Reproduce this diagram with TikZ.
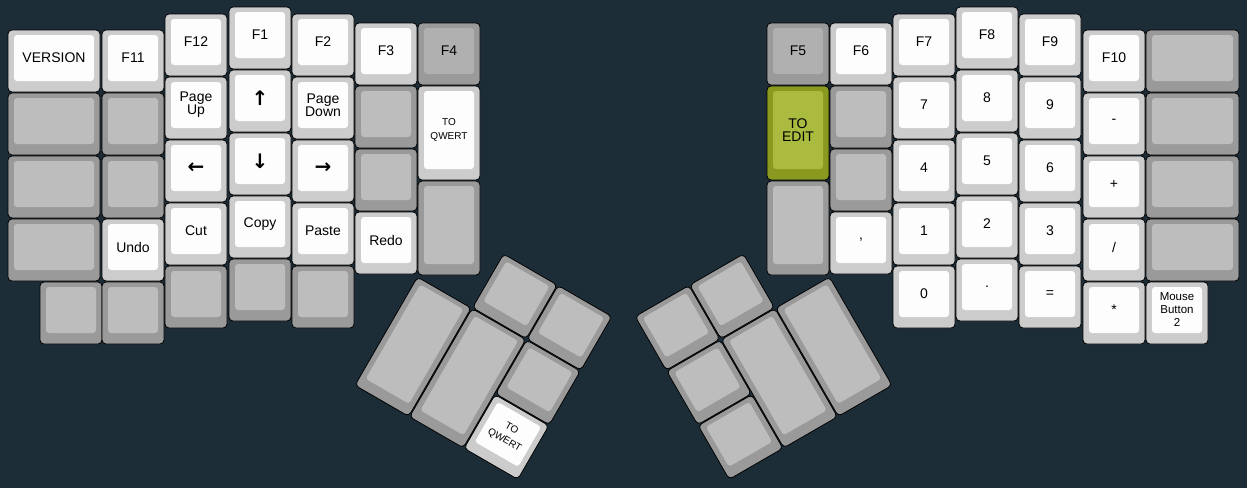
\documentclass[tikz,border=0pt]{standalone}
\usepackage{fontspec}
\setmainfont{Liberation Sans}
\newfontfamily\symfont{DejaVu Sans}
\definecolor{board}{HTML}{1D2D38}
\definecolor{lblout}{HTML}{CCCCCC}
\definecolor{lblin}{HTML}{FDFDFD}
\definecolor{blankout}{HTML}{9A9A9A}
\definecolor{blankin}{HTML}{BDBDBD}
\definecolor{darkin}{HTML}{B0B0B0}
\definecolor{greenout}{HTML}{8A9A20}
\definecolor{greenin}{HTML}{AABB40}
\tikzset{
  key out/.style={draw=black, line width=0.8pt, rounded corners=4pt, inner sep=0pt},
  key cap/.style={rounded corners=3pt, inner sep=0pt, align=center,
    font=\fontsize{14}{15}\selectfont},
  lbl out/.style={fill=lblout}, lbl cap/.style={fill=lblin},
  blank out/.style={fill=blankout}, blank cap/.style={fill=blankin},
  dark out/.style={fill=blankout}, dark cap/.style={fill=darkin},
  green out/.style={fill=greenout}, green cap/.style={fill=greenin}
}
% name, left, top, width, height, tone, label
\newcommand{\kbkey}[7]{%
  \node[key out, #6 out, minimum width=#4pt, minimum height=#5pt] (#1) at ({#2+#4/2},{#3+#5/2}) {};
  \node[key cap, #6 cap, minimum width=#4pt-12pt, minimum height=#5pt-16pt] (#1-cap) at ({#2+#4/2},{#3+#5/2-3}) {#7};}
\newcommand{\arr}[1]{{\symfont\bfseries\fontsize{20}{20}\selectfont #1}}
\newcommand{\sm}{\fontsize{10}{11}\selectfont}
\newcommand{\mb}{\fontsize{11.5}{12}\selectfont}
\begin{document}
\begin{tikzpicture}[x=1pt,y=-1pt]
\fill[board] (0,0) rectangle (1247,488);
\useasboundingbox (0,0) rectangle (1247,488);
% left hand
\kbkey{l00}{8}{30}{92}{62}{lbl}{VERSION}
\kbkey{l01}{8}{93}{92}{62}{blank}{}
\kbkey{l02}{8}{156}{92}{62}{blank}{}
\kbkey{l03}{8}{219}{92}{62}{blank}{}
\kbkey{l04}{40}{282}{62}{62}{blank}{}
\kbkey{l10}{102}{30}{62}{62}{lbl}{F11}
\kbkey{l11}{102}{93}{62}{62}{blank}{}
\kbkey{l12}{102}{156}{62}{62}{blank}{}
\kbkey{l13}{102}{219}{62}{62}{lbl}{Undo}
\kbkey{l14}{102}{282}{62}{62}{blank}{}
\kbkey{l20}{165}{14}{62}{62}{lbl}{F12}
\kbkey{l21}{165}{77}{62}{62}{lbl}{Page\\[-2pt]Up}
\kbkey{l22}{165}{140}{62}{62}{lbl}{\arr{←}}
\kbkey{l23}{165}{203}{62}{62}{lbl}{Cut}
\kbkey{l24}{165}{266}{62}{62}{blank}{}
\kbkey{l30}{229}{7}{62}{62}{lbl}{F1}
\kbkey{l31}{229}{70}{62}{62}{lbl}{\arr{↑}}
\kbkey{l32}{229}{133}{62}{62}{lbl}{\arr{↓}}
\kbkey{l33}{229}{196}{62}{62}{lbl}{Copy}
\kbkey{l34}{229}{259}{62}{62}{blank}{}
\kbkey{l40}{292}{14}{62}{62}{lbl}{F2}
\kbkey{l41}{292}{77}{62}{62}{lbl}{Page\\[-2pt]Down}
\kbkey{l42}{292}{140}{62}{62}{lbl}{\arr{→}}
\kbkey{l43}{292}{203}{62}{62}{lbl}{Paste}
\kbkey{l44}{292}{266}{62}{62}{blank}{}
\kbkey{l50}{355}{23}{62}{62}{lbl}{F3}
\kbkey{l51}{355}{86}{62}{62}{blank}{}
\kbkey{l52}{355}{149}{62}{62}{blank}{}
\kbkey{l53}{355}{212}{62}{62}{lbl}{Redo}
\kbkey{l60}{418}{23}{62}{62}{dark}{F4}
\kbkey{l61}{418}{86}{62}{94}{lbl}{\sm TO\\[-1pt]\sm QWERT}
\kbkey{l62}{418}{181}{62}{94}{blank}{}
% left thumb
\begin{scope}[shift={(449,222.5)}, rotate=-30, transform shape]
  \kbkey{lt0}{63}{0}{62}{62}{blank}{}
  \kbkey{lt1}{126}{0}{62}{62}{blank}{}
  \kbkey{lt2}{126}{63}{62}{62}{blank}{}
  \kbkey{lt3}{126}{126}{62}{62}{lbl}{\sm TO\\[-1pt]\sm QWERT}
  \kbkey{lt4}{0}{63}{62}{125}{blank}{}
  \kbkey{lt5}{63}{63}{62}{125}{blank}{}
\end{scope}
% right hand
\kbkey{r60}{767}{23}{62}{62}{dark}{F5}
\kbkey{r61}{767}{86}{62}{94}{green}{TO\\[-2pt]EDIT}
\kbkey{r62}{767}{181}{62}{94}{blank}{}
\kbkey{r50}{830}{23}{62}{62}{lbl}{F6}
\kbkey{r51}{830}{86}{62}{62}{blank}{}
\kbkey{r52}{830}{149}{62}{62}{blank}{}
\kbkey{r53}{830}{212}{62}{62}{lbl}{,}
\kbkey{r40}{893}{14}{62}{62}{lbl}{F7}
\kbkey{r41}{893}{77}{62}{62}{lbl}{7}
\kbkey{r42}{893}{140}{62}{62}{lbl}{4}
\kbkey{r43}{893}{203}{62}{62}{lbl}{1}
\kbkey{r44}{893}{266}{62}{62}{lbl}{0}
\kbkey{r30}{956}{7}{62}{62}{lbl}{F8}
\kbkey{r31}{956}{70}{62}{62}{lbl}{8}
\kbkey{r32}{956}{133}{62}{62}{lbl}{5}
\kbkey{r33}{956}{196}{62}{62}{lbl}{2}
\kbkey{r34}{956}{259}{62}{62}{lbl}{.}
\kbkey{r20}{1019}{14}{62}{62}{lbl}{F9}
\kbkey{r21}{1019}{77}{62}{62}{lbl}{9}
\kbkey{r22}{1019}{140}{62}{62}{lbl}{6}
\kbkey{r23}{1019}{203}{62}{62}{lbl}{3}
\kbkey{r24}{1019}{266}{62}{62}{lbl}{=}
\kbkey{r10}{1083}{30}{62}{62}{lbl}{F10}
\kbkey{r11}{1083}{93}{62}{62}{lbl}{-}
\kbkey{r12}{1083}{156}{62}{62}{lbl}{+}
\kbkey{r13}{1083}{219}{62}{62}{lbl}{/}
\kbkey{r14}{1083}{282}{62}{62}{lbl}{*}
\kbkey{r00}{1146}{30}{93}{62}{blank}{}
\kbkey{r01}{1146}{93}{93}{62}{blank}{}
\kbkey{r02}{1146}{156}{93}{62}{blank}{}
\kbkey{r03}{1146}{219}{93}{62}{blank}{}
\kbkey{r04}{1146}{282}{62}{62}{lbl}{\mb Mouse\\[-2pt]\mb Button\\[-2pt]\mb 2}
% right thumb
\begin{scope}[shift={(798,222.5)}, rotate=30, transform shape]
  \kbkey{rt0}{-125}{0}{62}{62}{blank}{}
  \kbkey{rt1}{-188}{0}{62}{62}{blank}{}
  \kbkey{rt2}{-188}{63}{62}{62}{blank}{}
  \kbkey{rt3}{-188}{126}{62}{62}{blank}{}
  \kbkey{rt4}{-62}{63}{62}{125}{blank}{}
  \kbkey{rt5}{-125}{63}{62}{125}{blank}{}
\end{scope}
\end{tikzpicture}
\end{document}
